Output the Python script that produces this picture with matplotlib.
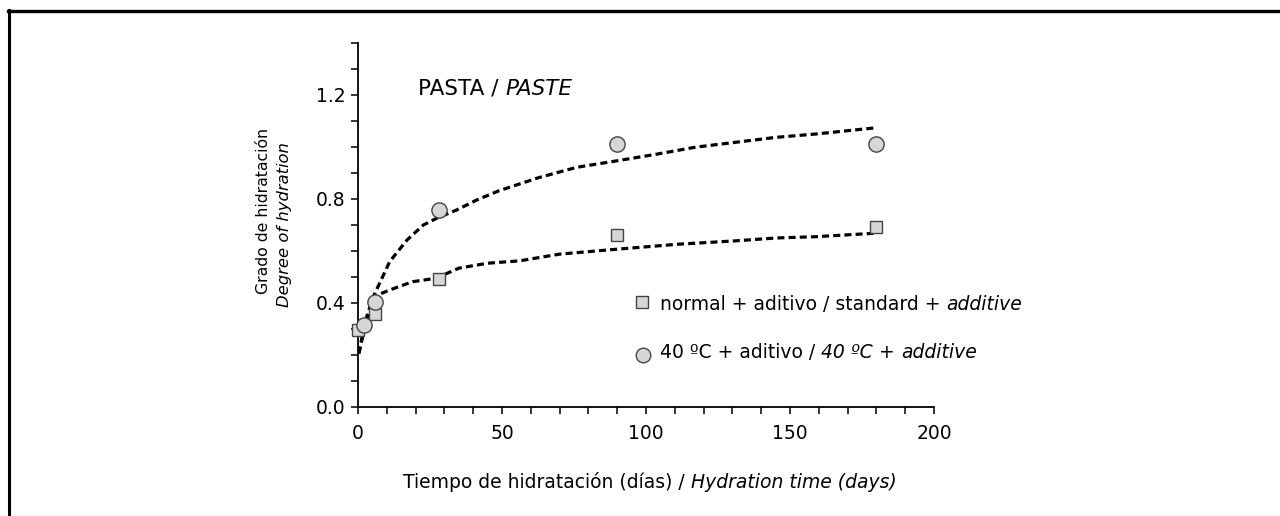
import matplotlib
matplotlib.use("Agg")
import matplotlib.pyplot as plt
from matplotlib.lines import Line2D
from matplotlib.ticker import MultipleLocator

# ---- data ----
sq_days = [0, 6, 28, 90, 180]
sq_vals = [0.295, 0.358, 0.492, 0.662, 0.692]
ci_days = [2, 6, 28, 90, 180]
ci_vals = [0.314, 0.405, 0.757, 1.011, 1.011]

fit_sq_days = [0.3, 2.5, 5.3, 11, 19, 27, 35, 45, 56, 70, 90, 111, 131, 145, 159, 179]
fit_sq_vals = [0.206, 0.33, 0.424, 0.45, 0.482, 0.495, 0.534, 0.553, 0.562, 0.588, 0.607, 0.626, 0.639, 0.65, 0.655, 0.668]
fit_ci_days = [0.3, 2.4, 5.3, 11, 17, 22.7, 27.3, 34.3, 41.2, 49, 63, 76, 90, 104, 117, 131, 145, 159, 179]
fit_ci_vals = [0.206, 0.309, 0.424, 0.559, 0.642, 0.70, 0.726, 0.758, 0.796, 0.832, 0.883, 0.922, 0.947, 0.973, 0.999, 1.018, 1.037, 1.05, 1.073]

x_ticks = [0, 50, 100, 150, 200]
y_ticks = [0.0, 0.4, 0.8, 1.2]

W, H = 1280, 516
plt.rcParams['font.family'] = ['DejaVu Sans']
fig = plt.figure(figsize=(W / 100, H / 100), dpi=100)
fig.patch.set_facecolor('white')

def px(x, y):
    return x / W, 1 - y / H

l, b = px(358, 407)
r, t = px(934, 43)
ax = fig.add_axes([l, b, r - l, t - b])
ax.set_xlim(0, 200)
ax.set_ylim(0, 1.4)
for s in ['top', 'right']:
    ax.spines[s].set_visible(False)
for s in ['left', 'bottom']:
    ax.spines[s].set_linewidth(1.3)
ax.set_xticks(x_ticks)
ax.set_yticks(y_ticks)
ax.set_yticklabels([f"{v:.1f}" for v in y_ticks])
ax.xaxis.set_minor_locator(MultipleLocator(10))
ax.yaxis.set_minor_locator(MultipleLocator(0.1))
ax.tick_params(which='both', direction='out', length=5, width=1.1, labelsize=13.5)
ax.tick_params(axis='x', which='both', pad=7)
ax.tick_params(axis='y', which='both', pad=4)
ax.patch.set_alpha(0)

dash = (0, (2.2, 1.3))
ax.plot(fit_sq_days, fit_sq_vals, color='black', lw=2.3, linestyle=dash, zorder=2)
ax.plot(fit_ci_days, fit_ci_vals, color='black', lw=2.3, linestyle=dash, zorder=2)
ax.plot(sq_days, sq_vals, linestyle='none', marker='s', ms=8.5, mfc='#d6d6d6', mec='#444444', mew=1.0, zorder=3, clip_on=False)
ax.plot(ci_days, ci_vals, linestyle='none', marker='o', ms=11, mfc='#d6d6d6', mec='#444444', mew=1.0, zorder=3, clip_on=False)

# legend markers
fig.add_artist(Line2D([641.5 / W], [1 - 301.5 / H], marker='s', ms=8.2, mfc='#d6d6d6', mec='#444444', mew=1.0, linestyle='none'))
fig.add_artist(Line2D([642.5 / W], [1 - 355 / H], marker='o', ms=10.5, mfc='#d6d6d6', mec='#444444', mew=1.0, linestyle='none'))

renderer = fig.canvas.get_renderer()

def space_w(size):
    sp = fig.text(0, 0, "x x", fontsize=size)
    sp2 = fig.text(0, 0, "xx", fontsize=size)
    s = sp.get_window_extent(renderer).width - sp2.get_window_extent(renderer).width
    sp.remove(); sp2.remove()
    return s

def rich(x, y, parts, size, measure=False):
    """parts: list of (text, italic). x,y pixels (left, baseline)."""
    space = space_w(size)
    cx = x
    for txt, it in parts:
        lead = len(txt) - len(txt.lstrip(' '))
        trail = len(txt) - len(txt.rstrip(' '))
        cx += lead * space
        core = txt.strip(' ')
        tt = fig.text(cx / W, 1 - y / H, core, fontsize=size, ha='left', va='baseline',
                      style='italic' if it else 'normal')
        cx += tt.get_window_extent(renderer).width + trail * space
        if measure:
            tt.remove()
    return cx - x

rich(418, 95, [("PASTA / ", False), ("PASTE", True)], 15.5)
rich(660, 310, [("normal + aditivo / standard + ", False), ("additive", True)], 13.5)
rich(660, 358, [("40 ºC + aditivo / ", False), ("40 ºC", True), (" + ", False), ("additive", True)], 13.5)

# x label centered
xl_parts = [("Tiempo de hidratación (días) / ", False), ("Hydration time (days)", True)]
tot = rich(0, 0, xl_parts, 13.5, measure=True)
rich(650 - tot / 2, 488, xl_parts, 13.5)

# y label (two lines)
fig.text(264 / W, 1 - 211 / H, "Grado de hidratación", rotation=90, fontsize=11.3, ha='center', va='center')
fig.text(285 / W, 1 - 225 / H, "Degree of hydration", rotation=90, fontsize=11.8, ha='center', va='center', style='italic')

# frame lines
fig.add_artist(Line2D([8 / W, 1.0], [1 - 11 / H, 1 - 11 / H], color='black', lw=2.4))
fig.add_artist(Line2D([8.5 / W, 8.5 / W], [0, 1 - 10 / H], color='black', lw=2.2))

fig.savefig("out.png", dpi=100, facecolor='white')
